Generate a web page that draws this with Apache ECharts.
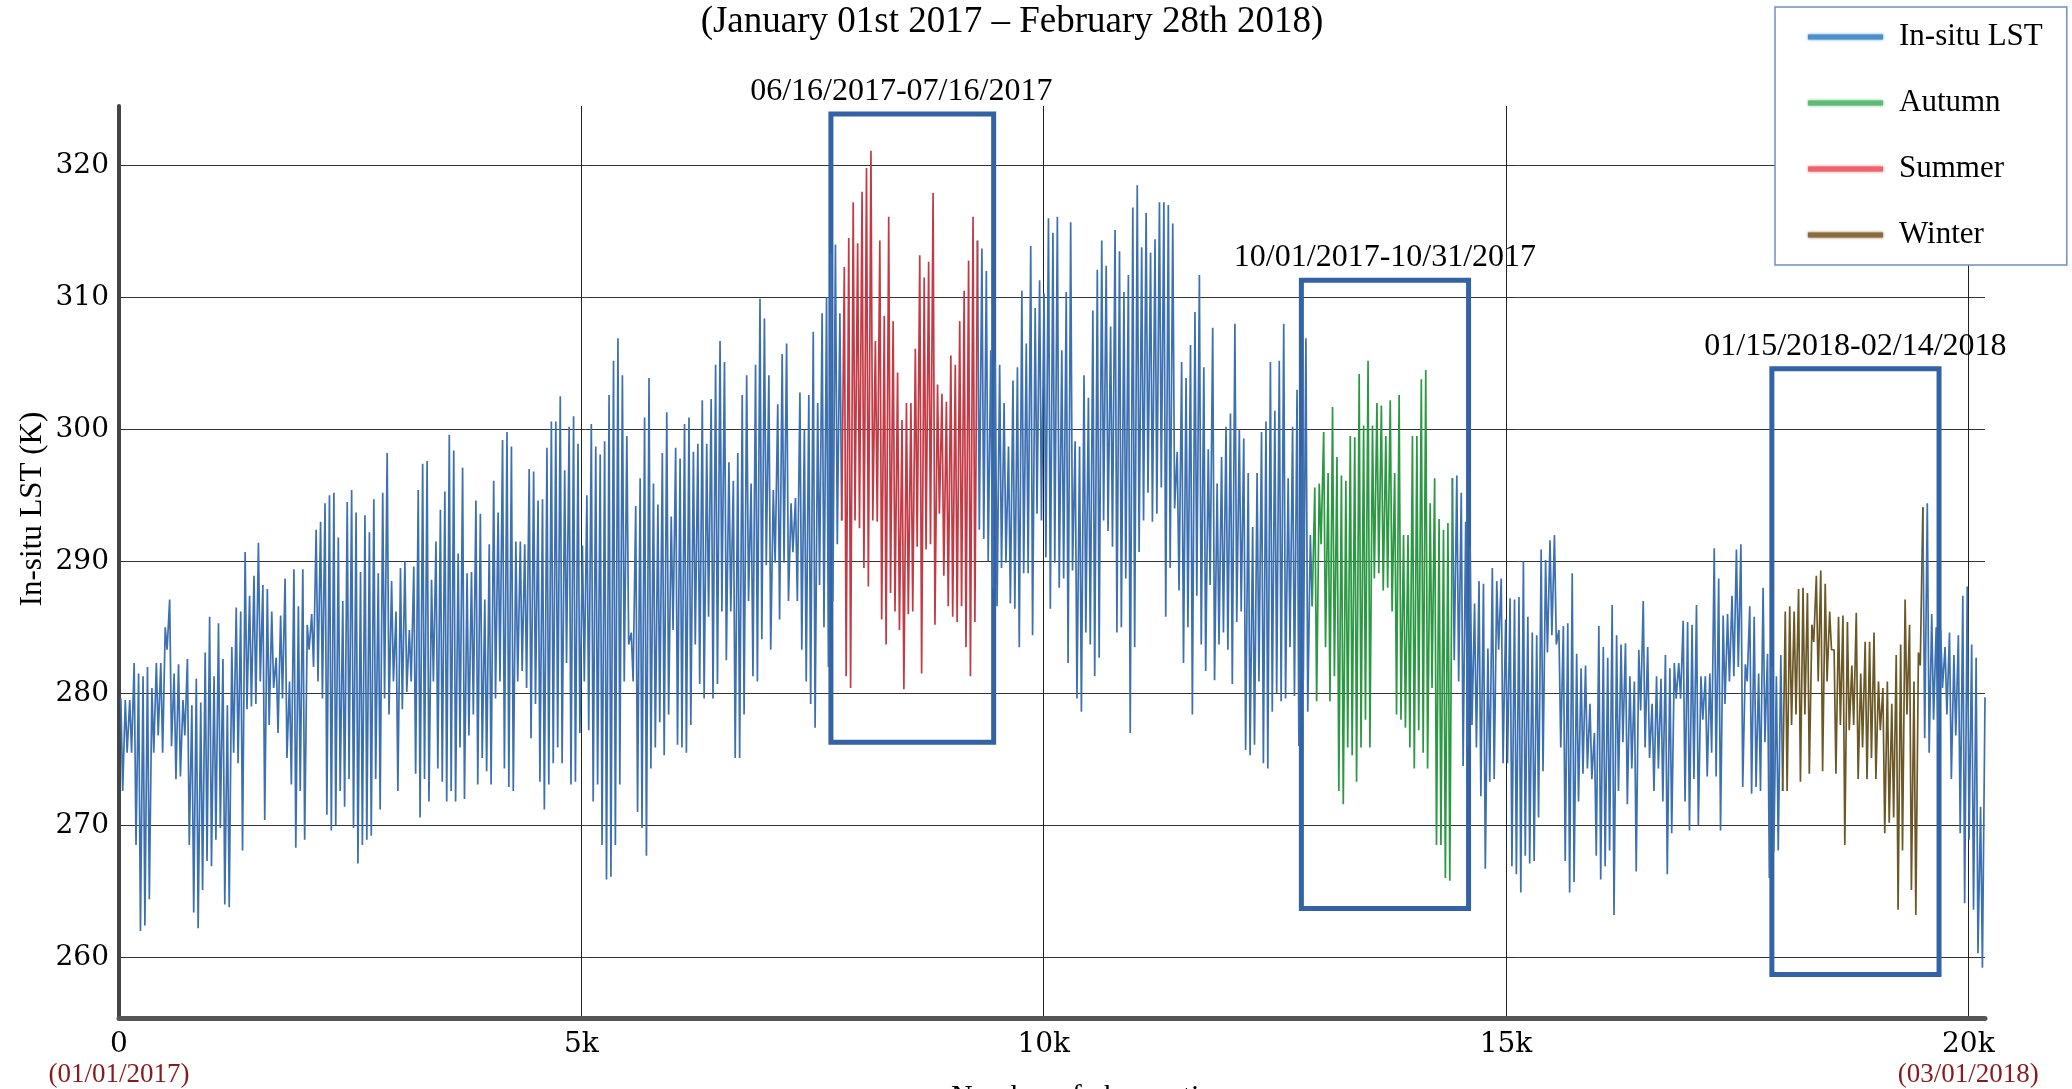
<!DOCTYPE html>
<html>
<head>
<meta charset="utf-8">
<title>In-situ LST</title>
<script src="https://cdn.jsdelivr.net/npm/echarts@6/dist/echarts.min.js"></script>
<style>
  html, body { margin: 0; padding: 0; background: #ffffff; }
  #chart { width: 2072px; height: 1089px; }
</style>
</head>
<body>
<div id="chart"></div>
<script>
// Daily maximum and minimum in-situ land surface temperature (K),
// one value per day starting 01/01/2017 (half-hourly records, 48 per day).
// dailyMax carries one extra closing reading at the end of the record.
const dailyMax = [
  279.6,279.5,279.5,282.3,281.5,281.3,282,280.4,282.3,282.3,
  285,287.1,281.5,282.2,279.5,282.6,279.1,281.1,279.3,283.1,
  285.8,281.3,285.3,282.6,279.1,283.5,286.5,286.2,290.7,287.4,
  288.9,291.4,288.2,287.9,286.2,282.7,285.9,288.7,280.9,289.4,
  286.6,289.4,285.2,
  286,292.4,293,294.4,295,295.2,291.8,287,294.5,295.4,
  293.7,289.2,293.5,292.2,294.7,289.1,295.2,298.2,288.5,286.2,
  289.5,290,284.8,289.6,295.4,297.4,297.6,288.6,291.5,293.9,
  295.3,299.6,298.4,290.6,297.1,289.1,289.2,294.6,293.6,287.1,
  291.3,296.1,293.7,
  299.2,299.8,298.7,291.5,291.5,291.3,297,296.8,294.6,294.7,
  298.6,300.6,300.6,302.5,296.9,300.2,301,298.9,291.2,295,
  300.4,298.7,298.1,299.1,302.6,305.2,306.9,304.1,299.5,284.6,
  294.2,296.3,300.9,303.9,295.9,294.3,298.2,301.3,293.4,298.6,
  297.8,300.4,300.9,
  298.3,298.9,302.2,298.9,302.3,304.9,306.7,305.1,297.5,296.1,
  298.2,302.6,304.1,295.9,304.9,309.9,308.4,304.1,295.4,301.9,
  305.7,306.5,294.4,294.8,302.8,300,302.6,307.4,302,308.8,
  310,313.3,314,308.8,
  312.3,314.5,317.2,314.1,318,319.8,321.1,306.7,314.3,308.6,
  316.1,308.2,304.3,300.7,302,302,306.1,313.2,311.5,312.7,
  317.9,303.4,302.7,302.1,305.6,304.9,308.2,310.5,312.8,316.1,
  314.3,313.7,312,306,305.1,304.9,302,298.7,303.7,304.7,
  310.5,306.5,313.9,309.2,311.3,310.3,316,314.9,316.1,306,
  310.4,315.7,299.1,298.7,304.1,302.4,309,312.1,314.3,312.4,
  307.8,315.1,313.5,310.4,311.7,316.8,318.5,313.8,316.4,313.4,
  314.4,317.2,317.2,317,315.6,298.3,305.1,303.9,306.4,308.9,
  311.7,304.7,298.5,307.7,295.9,297.9,300.2,301.2,308,300,
  299.3,296.7,292.6,
  296.7,299.8,300.6,305.1,301.4,305.2,308,296.3,300.2,303,298,306.9,292,
  295.6,295.9,299.8,296.7,301.7,297.9,296.5,296.1,299.5,299.4,
  304.2,300.3,305.2,300.3,302,301.8,299.5,302.2,296.7,302.6,
  292,292,299.5,299.5,303.8,304.5,294.4,296.3,293.2,292.4,
  292.9,
  296.3,296.5,295.2,293,291.1,286.8,288.5,288.3,283.4,289.5,
  288.5,288.7,285.6,287.2,287.1,287.3,290,285.8,284.6,284.4,
  290.9,290.1,291.6,292,284.8,285.1,285.3,289.1,283,281.9,
  282.1,279.2,277,285.1,283.5,282.7,286.7,284.4,283.7,283.8,
  281.3,280.9,
  283.3,287,283.5,279.2,281.3,281.1,282.9,281.9,282.3,282.3,
  285.5,285.4,285.2,286.7,281.3,281.3,281.5,291,288.7,285.9,
  286,287.4,290.9,291.3,282.2,286.6,285.8,281.5,288,283,
  282,281.3,282.9,
  286.2,286.6,286.2,287.9,288,287.6,285.2,288.9,289.3,288.3,
  286.2,283.3,285.8,285.9,285.4,282.1,286.1,281.5,283.9,283.9,
  284.6,280.9,280.4,280.9,279.2,282.9,283.7,287.1,285.2,280.9,
  283.1,
  294.1,294.4,286,285,284.8,283.5,284.6,282.9,284.4,287.4,
  288.1,283.7,282.7,271.4,
  279.7
];

const dailyMin = [
  272.6,275.5,275.5,268.5,262,262.4,264.4,275.5,276.8,275.5,
  283.3,276,273.5,273.7,276.8,268.5,263.4,262.2,265.1,267.3,
  266.9,268.9,269.8,264,263.8,275.5,274.7,268.1,278.8,279,
  279.2,280.9,270.4,277.6,280.4,277,279.6,275.1,273.1,268.3,
  272.6,268.9,283.3,
  282,280.9,279.6,270.8,269.6,270,272.6,271.4,273.5,269.8,
  267.1,268.5,268.9,269.2,273.5,271.2,279.6,278.4,280.9,272.6,
  278.8,280.1,280.9,273.9,270.6,273.5,271.8,280.9,274.3,273.3,
  271.8,272.6,271.8,275.9,272,276.8,278.4,273.1,275.1,274.1,
  273.1,279.6,280.9,
  274.3,272.9,272.6,280.9,281.7,280.4,276.6,279.2,273.3,271.2,
  273.1,274.7,275.9,274.7,282.3,273.1,273.3,277,280.9,277.2,
  271.8,273.1,268.5,265.9,266.1,268.5,273.1,280.9,283.7,280.9,
  271,269.8,267.7,274.3,275.9,277.8,275.3,278.4,284.8,276.1,
  275.9,275.5,277.6,
  283.7,280.7,279.6,285.8,279.6,280.7,286.2,282.5,286.2,275.1,
  275.1,278.4,287,281.3,280.9,284.1,289.7,283.3,289.9,285.6,
  289.9,287,290.7,287,283.3,280.9,279.2,277.4,288.2,285,
  282,287,291.3,293.1,
  281.3,280.4,293.1,292.5,289.5,288.1,293.1,293,285.6,283.7,
  287.6,286.2,284.8,280.3,286,286.2,291.1,281.5,290.9,291.3,
  285.2,293.6,288.9,286.6,285.8,285.4,286.6,283.5,281.3,285.4,
  292.4,291.7,290,288,286.6,289.5,289.9,286.8,286.4,283.5,
  289.1,289.1,284.4,293.6,293.1,290.3,286.4,289.9,288,288.7,
  282.3,289.3,279.6,278.6,284.6,283.7,281.3,282.7,293.1,292.3,
  291.1,284.6,285,288.7,277,283.5,290.7,293.1,295.2,293,
  293.6,295.6,285.8,289.5,294,287.8,282.3,285,278.4,287.4,
  283.7,281.7,288.2,281,283.7,284.6,283.3,280.7,285.4,286.2,
  275.7,275.3,276.1,
  280.9,274.7,274.3,278.6,280,279.4,279.6,283.5,279.8,276,281,278.6,286.6,
  279.4,291.3,283.5,279.4,281.3,272.6,271.6,275.9,275.3,273.3,
  275.9,278,275.9,288.7,289.1,287.8,288,286.2,278.4,278,
  277.4,275.9,274.3,277.2,275.5,274.3,280.4,268.5,268.5,266,
  265.8,
  282.5,280.9,274.5,276,277.6,275.9,272.2,266.7,273.3,273.5,
  283.3,274.7,274.7,266.9,266.3,264.9,267.7,267.1,267.3,270.6,
  274.1,283.1,284.4,283.7,275.9,267.3,264.9,265.7,271.8,273.9,
  274.3,273.5,267.7,265.9,266.9,268.1,263.2,272.6,276.3,271.6,
  274.3,266.5,
  278.7,275.9,275.1,272.6,274.3,271.8,266.3,269.4,279.6,279.6,
  271.8,269.6,273.5,270,278,273.7,275.5,273.7,269.6,279.2,
  280.9,281.3,282,272.9,280.9,272.4,272.9,272.6,276.3,266,
  268,268.1,272.6,
  272.6,277.6,278.4,273.3,278.4,273.9,283.9,280.9,274.1,280.9,
  283.3,273.9,277.6,268.5,277.2,277.6,273.5,275.9,273.5,275.1,
  273.5,277.2,269.4,270.2,270.6,263.6,268.1,278.4,265.1,263.2,
  282.1,
  276.6,275.5,278,277,280.4,278.4,273.5,276.8,269.4,264.1,
  268.9,263.6,260.3,259.2
];

// Highlighted periods: date label and first/last day index of each.
const periodNames = ['Summer', 'Autumn', 'Winter'];
const periodLabels = ['06/16/2017-07/16/2017', '10/01/2017-10/31/2017', '01/15/2018-02/14/2018'];
const periodDays = [[163, 192], [269, 299], [375, 405]];
// Temperature span (K) enclosed by the frame drawn round each period.
const periodFrameK = [[276.3, 323.9], [263.7, 311.3], [258.7, 304.6]];

const yTicks = [260, 270, 280, 290, 300, 310, 320];
const xTicks = [0, 5000, 10000, 15000, 20000];
const xTickLabels = ['0', '5k', '10k', '15k', '20k'];
const xTickDates = { 0: '(01/01/2017)', 20000: '(03/01/2018)' };

// ---- building the chart ----
const OBS_PER_DAY = 48;
const PEAK_SLOT = 20;
const TROUGH_SLOT = 40;
const X_MAX = 20180;

const lineColors = { 'In-situ LST': '#3c70b0', Summer: '#c33a45', Autumn: '#2c9844', Winter: '#6b5826' };
const legendColors = { 'In-situ LST': '#4d8fc9', Autumn: '#5dba77', Summer: '#f0616d', Winter: '#8a6b3d' };
const labelShift = [-11, 0, 0];
const SERIF = '"Liberation Serif", "Times New Roman", serif';
const TICK_FONT = '"DejaVu Serif", serif';

// half-hourly observation index of each daily extreme
const points = [];
dailyMax.forEach((v, d) => {
  points.push([d * OBS_PER_DAY + PEAK_SLOT, v]);
  if (d < dailyMin.length) points.push([d * OBS_PER_DAY + TROUGH_SLOT, dailyMin[d]]);
});

function lineSeries(name, data, z) {
  return {
    name, type: 'line', data, z,
    showSymbol: false, symbol: 'none', silent: true,
    animation: false, sampling: null,
    lineStyle: { color: lineColors[name], width: 1.7 },
    itemStyle: { color: lineColors[name] },
    emphasis: { disabled: true }
  };
}

const series = [];
let cursor = 0;
periodDays.forEach(([first, last], i) => {
  const a = 2 * first - 1, b = 2 * last + 2;
  series.push(lineSeries('In-situ LST', points.slice(cursor, a + 1), 2));
  const s = lineSeries(periodNames[i], points.slice(a, b + 1), 3);
  const [kLow, kHigh] = periodFrameK[i];
  s.markArea = {
    silent: true,
    itemStyle: { color: 'rgba(0,0,0,0)', borderColor: '#3463a5', borderWidth: 5 },
    label: { show: true, position: 'top', distance: 4, color: '#000', fontFamily: SERIF, fontSize: 32 },
    emphasis: { disabled: true },
    data: [[
      { name: periodLabels[i], coord: [first * OBS_PER_DAY - 125, kLow], label: { offset: [labelShift[i], 0] } },
      { coord: [(last + 1) * OBS_PER_DAY + 195, kHigh] }
    ]]
  };
  series.push(s);
  cursor = b;
});
series.push(lineSeries('In-situ LST', points.slice(cursor), 2));

const chart = echarts.init(document.getElementById('chart'), null, { renderer: 'canvas' });
chart.setOption({
  backgroundColor: '#ffffff',
  animation: false,
  grid: { left: 119, top: 106, width: 1866, height: 912, containLabel: false, outerBoundsMode: 'none' },
  xAxis: {
    type: 'value', min: 0, max: X_MAX,
    axisLine: { show: true, onZero: false, lineStyle: { color: '#555', width: 5 } },
    axisTick: { show: false, customValues: xTicks },
    splitLine: { show: true, lineStyle: { color: '#222', width: 1 } },
    axisLabel: {
      customValues: xTicks, margin: 12,
      formatter: (v) => {
        const i = xTicks.indexOf(v);
        const t = '{t|' + (i >= 0 ? xTickLabels[i] : '') + '}';
        return xTickDates[v] ? t + '\n{d|' + xTickDates[v] + '}' : t;
      },
      rich: {
        t: { fontFamily: TICK_FONT, fontSize: 28, color: '#000', lineHeight: 30 },
        d: { fontFamily: SERIF, fontSize: 27, color: '#8b1a1a', lineHeight: 29 }
      }
    }
  },
  yAxis: {
    type: 'value', min: 255.4, max: 324.5,
    axisLine: { show: true, onZero: false, lineStyle: { color: '#444', width: 4 } },
    axisTick: { show: false, customValues: yTicks },
    splitLine: { show: true, lineStyle: { color: '#333', width: 1 } },
    axisLabel: { customValues: yTicks, margin: 10, fontFamily: TICK_FONT, fontSize: 28, color: '#000' }
  },
  legend: {
    orient: 'vertical', left: 1775, top: 7,
    selectedMode: false, icon: 'rect',
    itemWidth: 75, itemHeight: 5, itemGap: 30,
    padding: [12, 24, 12, 33],
    backgroundColor: '#ffffff', borderColor: '#6d8fc2', borderWidth: 1.5,
    textStyle: { fontFamily: SERIF, fontSize: 31, color: '#000', lineHeight: 36, padding: [0, 0, 0, 11] },
    data: ['In-situ LST', 'Autumn', 'Summer', 'Winter'].map(n => ({
      name: n, itemStyle: { color: legendColors[n], shadowBlur: 3, shadowColor: legendColors[n] }
    }))
  },
  graphic: [
    { type: 'text', x: 1012, y: 22, silent: true,
      style: { text: '(January 01st 2017 – February 28th 2018)', font: '37px ' + SERIF, fill: '#000', align: 'center', verticalAlign: 'middle' } },
    { type: 'text', x: 33, y: 509, rotation: Math.PI / 2, silent: true,
      style: { text: 'In-situ LST (K)', font: '31px ' + SERIF, fill: '#000', align: 'center', verticalAlign: 'middle' } },
    { type: 'text', x: 1096, y: 1097, silent: true,
      style: { text: 'Number of observations', font: '30px ' + SERIF, fill: '#000', align: 'center', verticalAlign: 'middle' } }
  ],
  series
});
</script>
</body>
</html>
